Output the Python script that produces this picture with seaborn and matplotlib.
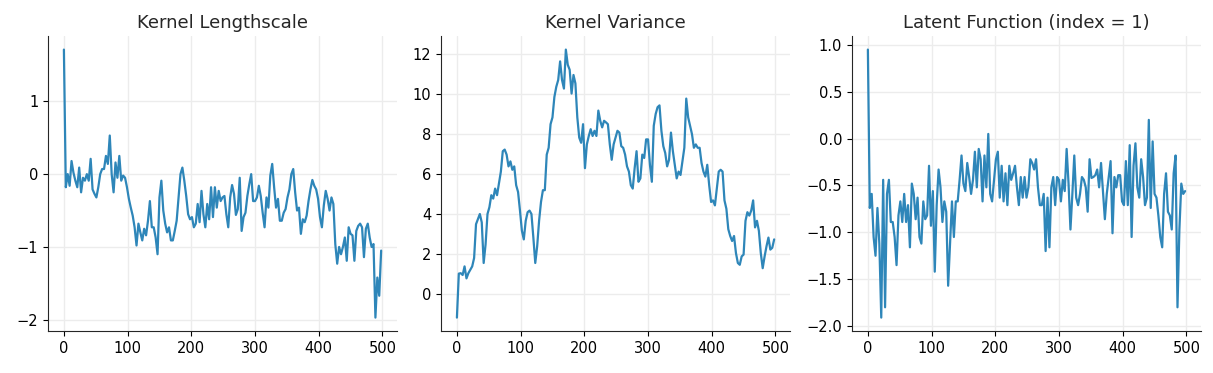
import numpy as np
import matplotlib
matplotlib.use("Agg")
import matplotlib.pyplot as plt
from matplotlib.ticker import MultipleLocator
import seaborn as sns

# trace values, one sample every 3 iterations
step = 3

lengthscale = [
    1.71, -0.18, 0.0, -0.16, 0.18, 0.02, -0.09, -0.18, 0.09, -0.25,
    -0.05, -0.09, 0.0, -0.09, 0.21, -0.21, -0.27, -0.32, -0.18, 0.0,
    0.07, 0.07, 0.25, 0.14, 0.53, 0.0, -0.25, 0.16, -0.05, 0.25,
    -0.09, -0.02, -0.05, -0.18, -0.34, -0.46, -0.57, -0.73, -0.98, -0.68,
    -0.80, -0.91, -0.75, -0.84, -0.64, -0.37, -0.73, -0.73, -0.87, -1.10,
    -0.32, -0.09, -0.50, -0.68, -0.80, -0.73, -0.91, -0.91, -0.78, -0.64,
    -0.32, 0.0, 0.09, -0.09, -0.30, -0.55, -0.62, -0.59, -0.73, -0.68,
    -0.41, -0.66, -0.23, -0.55, -0.73, -0.41, -0.62, -0.18, -0.59, -0.18,
    -0.46, -0.23, -0.37, -0.32, -0.30, -0.55, -0.73, -0.32, -0.15, -0.27,
    -0.56, -0.48, -0.05, -0.78, -0.59, -0.53, -0.30, -0.14, 0.0, -0.37,
    -0.37, -0.32, -0.16, -0.30, -0.53, -0.73, -0.32, -0.46, -0.02, 0.14,
    -0.18, -0.46, -0.34, -0.64, -0.64, -0.53, -0.48, -0.32, -0.21, 0.0,
    0.07, -0.25, -0.50, -0.46, -0.82, -0.62, -0.66, -0.57, -0.37, -0.21,
    -0.08, -0.16, -0.21, -0.34, -0.59, -0.73, -0.43, -0.23, -0.34, -0.50,
    -0.32, -0.41, -0.96, -1.23, -1.00, -1.10, -1.00, -0.87, -1.19, -0.73,
    -0.82, -0.84, -1.19, -0.78, -0.71, -0.68, -0.73, -1.14, -0.75, -0.68,
    -0.87, -1.00, -0.96, -1.97, -1.42, -1.67, -1.05,
]

variance = [
    -1.2, 1.0, 1.02, 0.93, 1.36, 0.76, 1.02, 1.19, 1.36, 1.78,
    3.47, 3.73, 3.98, 3.56, 1.53, 2.46, 3.98, 4.32, 4.92, 4.75,
    5.25, 4.92, 5.51, 6.10, 7.12, 7.20, 6.95, 6.36, 6.61, 6.19,
    6.36, 5.42, 5.08, 4.15, 3.14, 2.71, 3.64, 4.07, 4.15, 3.98,
    2.80, 1.53, 2.37, 3.64, 4.58, 5.17, 5.17, 6.95, 7.29, 8.47,
    8.81, 9.83, 10.34, 10.68, 11.61, 10.68, 10.25, 12.20, 11.44, 11.19,
    10.0, 10.93, 10.51, 8.81, 7.80, 7.54, 8.47, 6.27, 7.46, 7.88,
    8.22, 7.88, 8.14, 7.88, 9.15, 8.64, 8.31, 8.64, 8.56, 8.47,
    7.46, 6.69, 7.46, 7.80, 8.14, 8.05, 7.37, 7.29, 6.95, 6.36,
    6.10, 5.42, 5.25, 6.27, 7.12, 5.59, 5.76, 6.95, 6.78, 7.71,
    7.71, 6.44, 5.59, 8.39, 8.98, 9.32, 9.41, 8.14, 7.37, 7.03,
    6.36, 6.69, 8.05, 7.12, 6.44, 5.76, 6.10, 5.93, 6.61, 7.29,
    9.75, 8.81, 8.39, 7.97, 7.29, 7.46, 7.29, 7.29, 6.53, 6.10,
    5.85, 6.44, 5.42, 4.58, 4.66, 4.41, 5.25, 6.10, 6.19, 6.10,
    4.66, 4.24, 3.22, 2.88, 2.63, 2.88, 2.03, 1.53, 1.44, 1.86,
    1.95, 3.64, 4.07, 3.90, 4.15, 4.66, 3.31, 3.64, 3.14, 2.03,
    1.27, 1.86, 2.37, 2.80, 2.20, 2.29, 2.71,
]

latent = [
    0.95, -0.74, -0.59, -1.05, -1.25, -0.74, -1.12, -1.91, -0.44, -1.80,
    -0.59, -0.44, -0.89, -0.89, -1.05, -1.35, -0.82, -0.67, -0.89, -0.59,
    -0.89, -0.71, -1.16, -0.48, -0.59, -0.86, -0.63, -1.05, -1.12, -0.67,
    -0.86, -0.82, -0.29, -0.93, -0.56, -1.42, -0.71, -0.33, -0.52, -0.89,
    -0.67, -0.78, -1.57, -1.12, -0.67, -1.05, -0.67, -0.67, -0.44, -0.18,
    -0.48, -0.56, -0.26, -0.41, -0.59, -0.44, -0.14, -0.52, -0.11, -0.22,
    -0.67, -0.18, -0.52, 0.05, -0.59, -0.67, -0.44, -0.22, -0.14, -0.63,
    -0.29, -0.67, -0.37, -0.71, -0.29, -0.44, -0.37, -0.29, -0.52, -0.71,
    -0.41, -0.63, -0.41, -0.63, -0.52, -0.22, -0.26, -0.33, -0.22, -0.52,
    -0.71, -0.71, -0.59, -1.20, -0.63, -1.16, -0.52, -0.41, -0.71, -0.41,
    -0.44, -0.67, -0.44, -0.56, -0.11, -0.48, -0.97, -0.59, -0.18, -0.63,
    -0.71, -0.59, -0.41, -0.44, -0.52, -0.78, -0.22, -0.42, -0.41, -0.39,
    -0.33, -0.52, -0.26, -0.56, -0.86, -0.59, -0.41, -0.24, -1.01, -0.41,
    -0.52, -0.39, -0.39, -0.67, -0.71, -0.24, -0.71, -0.07, -1.05, -0.29,
    -0.05, -0.52, -0.63, -0.22, -0.41, -0.71, -0.63, 0.20, -0.74, -0.03,
    -0.59, -0.63, -0.82, -1.05, -1.16, -0.59, -0.37, -0.78, -0.82, -0.97,
    -0.37, -0.18, -1.80, -0.97, -0.48, -0.59, -0.56,
]

titles = ["Kernel Lengthscale", "Kernel Variance", "Latent Function (index = 1)"]
series = [lengthscale, variance, latent]
ytick_steps = [1, 2, 0.5]
line_color = "#2e86b9"

sns.set_style("ticks")
plt.rcParams["font.family"] = ["DejaVu Sans"]
fig, axes = plt.subplots(1, 3, figsize=(12.13, 3.73), dpi=100)

lefts = [0.0396, 0.3636, 0.7024]
for ax, left, title, vals, ys in zip(axes, lefts, titles, series, ytick_steps):
    ax.set_position([left, 0.1126, 0.2877, 0.7904])
    x = np.arange(len(vals)) * step
    sns.lineplot(x=x, y=vals, ax=ax, color=line_color, linewidth=1.6)
    ax.set_title(title, fontsize=13)
    ax.yaxis.set_major_locator(MultipleLocator(ys))
    ax.xaxis.set_major_locator(MultipleLocator(100))
    ax.grid(True, color="#ececec", linewidth=1.0)
    ax.set_axisbelow(True)
    ax.tick_params(labelsize=10.5, colors="black")
    sns.despine(ax=ax)

fig.savefig("out.png", dpi=100)
